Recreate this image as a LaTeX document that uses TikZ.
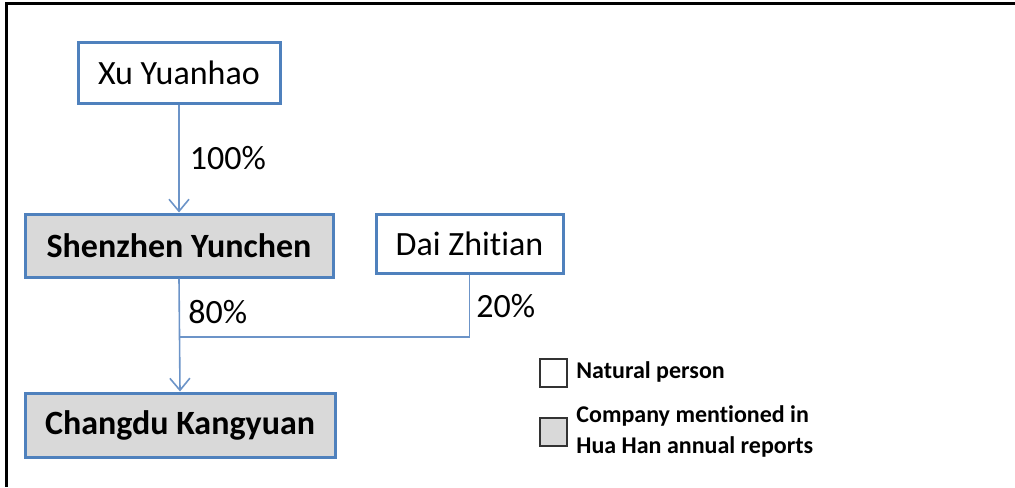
\documentclass[tikz,border=0pt]{standalone}
\usepackage{fontspec}
\setmainfont[Ligatures=NoCommon]{Carlito}
\usetikzlibrary{arrows.meta}
\definecolor{boxBlue}{HTML}{4F81BD}
\definecolor{boxGray}{HTML}{D9D9D9}
\definecolor{linkBlue}{HTML}{6C94C8}
\begin{document}
\begin{tikzpicture}
        [x=0.5pt, y=-0.5pt,
        person/.style={rectangle, draw=boxBlue, line width=1.5pt, fill=white, inner sep=0pt, font=\fontsize{17}{20}\selectfont},
        company/.style={rectangle, draw=boxBlue, line width=1.5pt, fill=boxGray, inner sep=0pt, font=\bfseries\fontsize{17}{20}\selectfont},
        link/.style={draw=linkBlue, line width=0.8pt},
        share/.style={anchor=west, inner sep=0pt, font=\fontsize{17}{20}\selectfont},
        legendBox/.style={rectangle, draw=black!80, line width=1pt, minimum width=13.5pt, minimum height=14pt, inner sep=0pt},
        legendText/.style={anchor=west, inner sep=0pt, align=left, font=\bfseries\fontsize{12}{15.5}\selectfont}]
        \useasboundingbox (0,0) rectangle (1015,487);
        % frame
        \draw[line width=1.5pt] (5,3.5) -- (1015,3.5);
        \draw[line width=1.5pt] (6.5,3.5) -- (6.5,487);

        \node[person, minimum width=101pt, minimum height=30.5pt] (Xu) at (179,72.5) {Xu Yuanhao};
        \node[company, minimum width=154pt, minimum height=31.5pt] (SY) at (179,245.5) {Shenzhen Yunchen};
        \node[person, minimum width=93.5pt, minimum height=29.5pt] (Dai) at (469.5,243.5) {Dai Zhitian};
        \node[company, minimum width=155pt, minimum height=32pt] (CK) at (180,425) {Changdu Kangyuan};
        \coordinate (J) at (180,337);

        \draw[link, -{Straight Barb[length=6pt, width=10pt]}] (Xu) -- (SY.north) node[pos=0.5, share, xshift=5pt] {100\%};
        \draw[link, -{Straight Barb[length=6pt, width=10pt]}] (SY.south) -- (CK.north);
        \draw[link] (Dai.south) |- (J);
        \node[share] (p80) at (188,312) {80\%};
        \node[share] (p20) at (476,306) {20\%};

        % legend
        \node[legendBox, fill=white] (LP) at (553.5,372.5) {};
        \node[legendText] (LPt) at (576,372) {Natural person};
        \node[legendBox, fill=boxGray] (LC) at (553.5,432) {};
        \node[legendText] (LCt) at (576,431) {Company mentioned in\\Hua Han annual reports};

    \end{tikzpicture}
\end{document}
